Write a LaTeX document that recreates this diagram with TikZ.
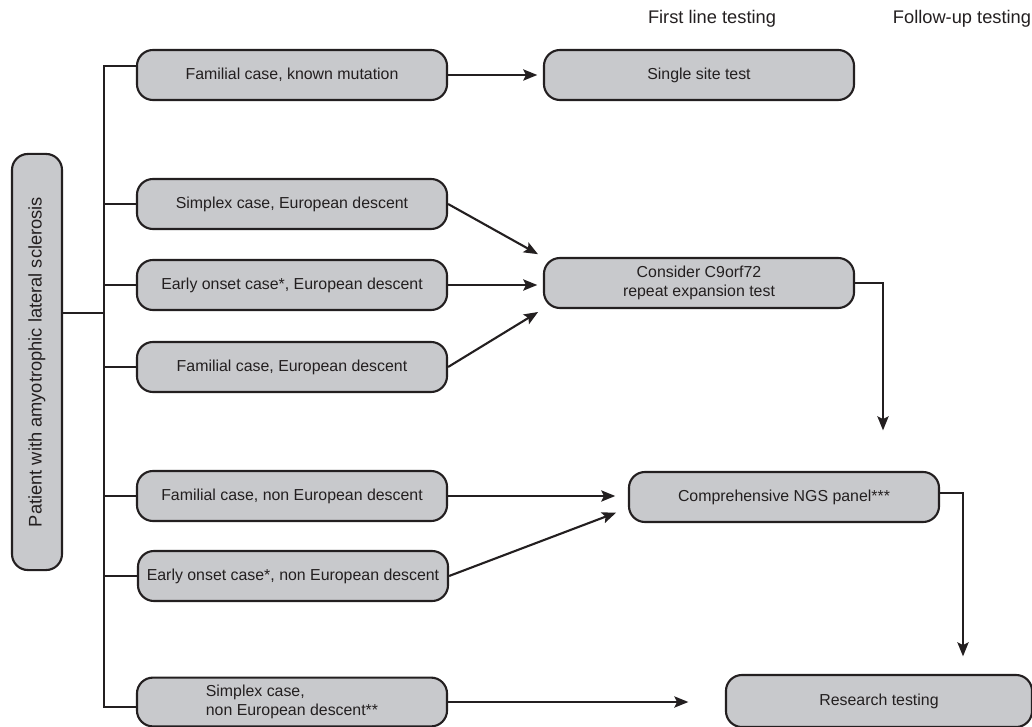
\documentclass[tikz,border=0pt]{standalone}
\usepackage{fontspec}
\setmainfont{Liberation Sans}
\usetikzlibrary{arrows.meta,positioning}
\definecolor{boxgray}{RGB}{200,201,204}
\definecolor{ink}{RGB}{35,31,32}

\begin{document}
\begin{tikzpicture}[x=0.025cm,y=-0.025cm,
    case/.style={draw=ink,fill=boxgray,line width=1.5pt,rounded corners=0.4cm,
      minimum width=7.75cm,minimum height=1.25cm,text=ink,
      font=\fontsize{11.3}{14}\selectfont},
    head/.style={text=ink,font=\fontsize{13}{16}\selectfont},
    link/.style={draw=ink,line width=1.5pt},
    arr/.style={link,shorten >=4pt,-{Stealth[length=10pt,width=8pt,inset=2pt]}}]
          \useasboundingbox (0,0) rectangle (1032,727);
          % column headers
          \node [head] (first) at (712,19) {First line testing};
          \node [head] (follow) at (962,19) {Follow-up testing};
          % patient and the cases
          \node [case,rotate=90,minimum width=10.4cm,font=\fontsize{13}{16}\selectfont] (patient) at (37,362) {Patient with amyotrophic lateral sclerosis};
          \node [case] (known) at (292,75) {Familial case, known mutation};
          \node [case] (simplexeu) at (292,204) {Simplex case, European descent};
          \node [case] (earlyeu) at (292,285) {Early onset case*, European descent};
          \node [case] (familialeu) at (292,367) {Familial case, European descent};
          \node [case] (familialnon) at (292,496) {Familial case, non European descent};
          \node [case] (earlynon) at (293,576) {Early onset case*, non European descent};
          \node [case,align=left,minimum height=1.22cm] (simplexnon) at (292,702) {Simplex case,\\non European descent**};
          % tests
          \node [case] (single) at (699,75) {Single site test};
          \node [case,align=center] (c9) at (699,283) {Consider C9orf72\\repeat expansion test};
          \node [case] (ngs) at (784,497) {Comprehensive NGS panel***};
          \node [case,minimum width=7.65cm,minimum height=1.3cm] (research) at (879,701) {Research testing};
          % trunk
          \coordinate (top) at (104,66);
          \coordinate (bottom) at (104,707);
          \coordinate (fork) at (104,313);
          \draw [link] (known.west |- top) -- (top) -- (bottom) -- (simplexnon.west |- bottom);
          \draw [link] (patient.south |- fork) -- (fork);
          \foreach \n in {simplexeu,earlyeu,familialeu,familialnon,earlynon}
            \draw [link] (top |- \n.west) -- (\n.west);
          % arrows
          \draw [arr] (known.east) -- (single.west);
          \draw [arr] (simplexeu.east) -- (c9.north west);
          \draw [arr] (earlyeu.east) -- (earlyeu.east -| c9.west);
          \draw [arr] (familialeu.east) -- (c9.south west);
          \coordinate (c9end) at (883,436);
          \draw [arr] (c9.east) -| (c9end);
          \draw [arr,shorten >=9pt] (familialnon.east) -- (familialnon.east -| ngs.west);
          \draw [arr,shorten >=9pt] (earlynon.east) -- ([yshift=-0.28cm]ngs.west);
          \coordinate (ngsend) at (963,662);
          \draw [arr] ([yshift=0.1cm]ngs.east) -| (ngsend);
          \coordinate (resend) at (694,702);
          \draw [arr] (simplexnon.east) -- (resend);
     \end{tikzpicture}
\end{document}
